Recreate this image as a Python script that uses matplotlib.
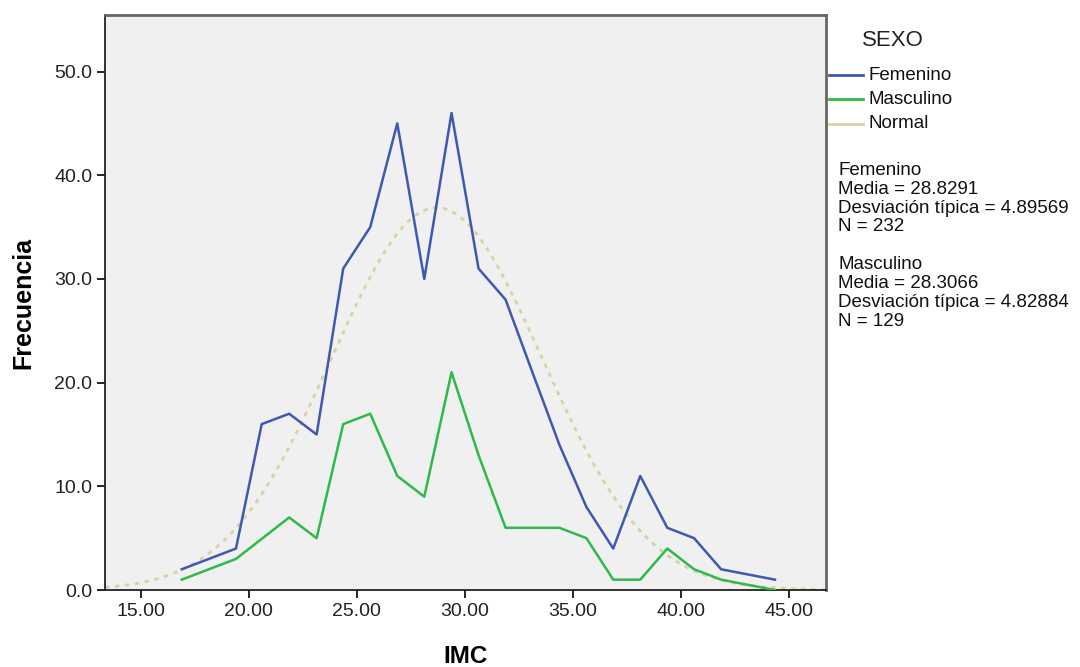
import matplotlib.pyplot as plt
import numpy as np
from matplotlib.lines import Line2D

plt.rcParams['font.family'] = ['Liberation Sans', 'DejaVu Sans']

# frequency polygon points
fem_imc = [16.90, 19.41, 20.60, 21.87, 23.14, 24.37, 25.62, 26.87, 28.12, 29.38,
           30.63, 31.88, 33.12, 34.37, 35.62, 36.86, 38.11, 39.36, 40.60, 41.85, 44.34]
fem_freq = [2, 4, 16, 17, 15, 31, 35, 45, 30, 46,
            31, 28, 21, 14, 8, 4, 11, 6, 5, 2, 1]

mas_imc = [16.90, 19.41, 21.87, 23.14, 24.37, 25.62, 26.87, 28.12, 29.38, 30.63,
           31.88, 33.12, 34.37, 35.62, 36.86, 38.11, 39.36, 40.60, 41.85, 44.34]
mas_freq = [1, 3, 7, 5, 16, 17, 11, 9, 21, 13,
            6, 6, 6, 5, 1, 1, 4, 2, 1, 0]

# fitted normal curve (all cases)
norm_mean = 28.70
norm_sd = 4.87
norm_n = 361
bin_width = 1.247

stats_text = ("Femenino\nMedia = 28.8291\nDesviación típica = 4.89569\nN = 232\n\n"
              "Masculino\nMedia = 28.3066\nDesviación típica = 4.82884\nN = 129")

c_fem = "#3f58b0"
c_mas = "#2fb94a"
c_norm = "#d9d3a2"

fig = plt.figure(figsize=(10.8, 6.67), dpi=100)
ax = fig.add_axes([0.0972, 0.1154, 0.6676, 0.8621])
ax.set_facecolor("#f0f0f0")

xmin, xmax = 13.35, 46.70
xs = np.linspace(xmin, xmax, 400)
ys = norm_n * bin_width / (norm_sd * np.sqrt(2 * np.pi)) * np.exp(-0.5 * ((xs - norm_mean) / norm_sd) ** 2)
ax.plot(xs, ys, color=c_norm, linewidth=2, linestyle=(0, (1.6, 2.0)), zorder=2)
ax.plot(fem_imc, fem_freq, color=c_fem, linewidth=1.8, zorder=3)
ax.plot(mas_imc, mas_freq, color=c_mas, linewidth=1.8, zorder=3)

ax.set_xlim(xmin, xmax)
ax.set_ylim(0, 55.45)
ax.set_xticks([15, 20, 25, 30, 35, 40, 45])
ax.set_xticklabels([f"{v:.2f}" for v in [15, 20, 25, 30, 35, 40, 45]])
ax.set_yticks([0, 10, 20, 30, 40, 50])
ax.set_yticklabels([f"{v:.1f}" for v in [0, 10, 20, 30, 40, 50]])
ax.tick_params(direction="out", length=6, width=1.2, labelsize=14,
               labelcolor="#222222", pad=3)

for side in ["left", "bottom"]:
    ax.spines[side].set_color("#222222")
    ax.spines[side].set_linewidth(1.3)
for side in ["top", "right"]:
    ax.spines[side].set_color("#666666")
    ax.spines[side].set_linewidth(2)

ax.set_xlabel("IMC", fontsize=17.5, fontweight="bold", labelpad=18)
ax.set_ylabel("Frecuencia", fontsize=18, fontweight="bold", labelpad=14)

# legend drawn by hand, in pixel coords
W, H = 1080, 667


def fx(px):
    return px / W


def fy(py):
    return 1 - py / H


fig.text(fx(862), fy(40), "SEXO", fontsize=16, color="#222222", va="center")
legend_items = [("Femenino", c_fem, 75), ("Masculino", c_mas, 99), ("Normal", c_norm, 124)]
for label, col, py in legend_items:
    fig.add_artist(Line2D([fx(829), fx(863)], [fy(py), fy(py)], color=col, linewidth=2))
    fig.text(fx(868), fy(py), label, fontsize=13.5, color="#111111", va="center")

fig.text(fx(838), fy(162), stats_text, fontsize=13.5, color="#111111",
         va="top", ha="left", linespacing=1.14)

fig.savefig("out.png", dpi=100)
